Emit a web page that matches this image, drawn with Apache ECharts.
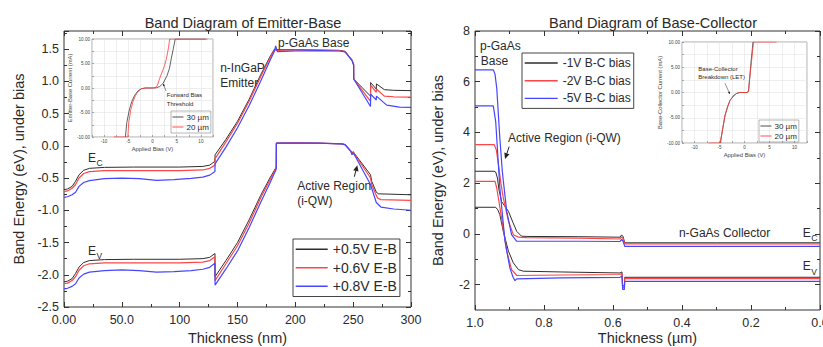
<!DOCTYPE html>
<html><head><meta charset="utf-8">
<script src="https://cdn.jsdelivr.net/npm/echarts@6/dist/echarts.min.js"></script>
<style>html,body{margin:0;padding:0;background:#fff}#c{width:823px;height:347px}</style>
</head><body><div id="c"></div>
<script>
// ---------- Emitter-Base band diagram (thickness nm, energy eV) ----------
const ebNames = ['+0.5V E-B', '+0.6V E-B', '+0.8V E-B'];
const ebEc05 = [[0,-0.68],[3,-0.67],[7,-0.63],[10,-0.55],[13,-0.45],[17,-0.38],[22,-0.35],[35,-0.335],[60,-0.33],[100,-0.33],[120,-0.32],[126,-0.3],[130.5,-0.24],[130.6,-0.14],[140,0.1],[150,0.38],[160,0.72],[170,1.1],[178,1.38],[182,1.5],[184,1.49],[200,1.49],[220,1.485],[238,1.48],[243,1.465],[249,1.33],[250.4,1.26],[250.5,1.035],[265,0.77],[265.1,0.98],[270,0.88],[270.1,0.96],[277,0.87],[285,0.86],[300,0.855]];
const ebEc06 = [[0,-0.71],[3,-0.70],[7,-0.66],[10,-0.6],[13,-0.5],[17,-0.43],[22,-0.40],[35,-0.385],[60,-0.385],[100,-0.385],[120,-0.375],[126,-0.35],[130.5,-0.3],[130.6,-0.2],[140,0.06],[150,0.35],[160,0.69],[170,1.07],[178,1.36],[182,1.49],[184,1.48],[200,1.485],[220,1.48],[238,1.475],[243,1.46],[249,1.33],[250.4,1.26],[250.5,1.035],[265,0.69],[265.1,0.94],[270,0.83],[270.1,0.88],[277,0.77],[285,0.76],[300,0.755]];
const ebEc08 = [[0,-0.80],[3,-0.79],[7,-0.76],[10,-0.72],[13,-0.63],[17,-0.57],[22,-0.54],[35,-0.51],[50,-0.5],[65,-0.51],[80,-0.535],[95,-0.525],[110,-0.505],[120,-0.485],[126,-0.455],[130.5,-0.4],[130.6,-0.28],[140,-0.02],[150,0.28],[160,0.62],[170,1.0],[178,1.32],[182,1.47],[183,1.55],[184.5,1.46],[200,1.47],[220,1.475],[238,1.47],[243,1.455],[249,1.32],[250.4,1.25],[250.5,1.035],[265,0.61],[265.1,0.80],[270,0.71],[270.1,0.77],[279,0.63],[290,0.6],[300,0.595]];
const ebEv05 = [[0,-2.11],[3,-2.10],[7,-2.06],[10,-1.98],[13,-1.88],[17,-1.81],[22,-1.78],[35,-1.765],[60,-1.76],[100,-1.76],[120,-1.75],[126,-1.73],[130.5,-1.67],[130.6,-2.03],[140,-1.78],[150,-1.5],[160,-1.15],[170,-0.77],[178,-0.5],[183.5,-0.33],[183.6,0.04],[200,0.045],[220,0.04],[240,0.03],[243,0.02],[248,-0.08],[249,-0.12],[250,-0.09],[252,-0.14],[265,-0.45],[266,-0.55],[270,-0.72],[272,-0.745],[300,-0.76]];
const ebEv06 = [[0,-2.14],[3,-2.13],[7,-2.09],[10,-2.03],[13,-1.93],[17,-1.86],[22,-1.83],[35,-1.815],[60,-1.815],[100,-1.815],[120,-1.805],[126,-1.78],[130.5,-1.72],[130.6,-2.09],[140,-1.83],[150,-1.55],[160,-1.2],[170,-0.81],[178,-0.53],[183.5,-0.34],[183.6,0.04],[200,0.045],[220,0.04],[240,0.03],[243,0.02],[248,-0.08],[249,-0.13],[250,-0.1],[252,-0.15],[265,-0.5],[266,-0.6],[271,-0.81],[274,-0.835],[300,-0.845]];
const ebEv08 = [[0,-2.22],[3,-2.21],[7,-2.18],[10,-2.14],[13,-2.05],[17,-1.99],[22,-1.96],[35,-1.935],[50,-1.925],[65,-1.935],[80,-1.96],[95,-1.95],[110,-1.935],[120,-1.915],[126,-1.885],[130.5,-1.82],[130.6,-2.16],[140,-1.91],[150,-1.63],[160,-1.27],[170,-0.88],[178,-0.58],[183.5,-0.36],[183.6,0.04],[200,0.04],[220,0.04],[240,0.03],[243,0.015],[248,-0.09],[249,-0.14],[250,-0.11],[252,-0.17],[265,-0.6],[270,-0.88],[274,-0.95],[285,-0.98],[300,-1.0]];
const ebXTicks = [0, 50, 100, 150, 200, 250, 300];
const ebXLabels = ['0.00', '50.0', '100', '150', '200', '250', '300'];
const ebYTicks = [1.5, 1.0, 0.5, 0, -0.5, -1.0, -1.5, -2.0, -2.5];
const ebYLabels = ['1.5', '1.0', '0.5', '0.0', '-0.5', '-1.0', '-1.5', '-2.0', '-2.5'];

// ---------- Base-Collector band diagram (thickness um, energy eV) ----------
const bcNames = ['-1V B-C bias', '-2V B-C bias', '-5V B-C bias'];
const bcEc1 = [[1.0,2.47],[0.945,2.47],[0.94,2.44],[0.935,2.2],[0.93,1.7],[0.923,1.28],[0.913,1.08],[0.903,0.89],[0.89,0.45],[0.879,0.1],[0.865,-0.09],[0.85,-0.1],[0.7,-0.11],[0.58,-0.13],[0.575,-0.04],[0.571,-0.1],[0.566,-0.35],[0.3,-0.35],[0,-0.35]];
const bcEc2 = [[1.0,3.52],[0.944,3.52],[0.938,3.3],[0.932,2.73],[0.925,2.0],[0.918,1.42],[0.903,0.5],[0.889,-0.03],[0.874,-0.13],[0.85,-0.15],[0.7,-0.17],[0.58,-0.2],[0.575,-0.12],[0.571,-0.17],[0.566,-0.39],[0,-0.39]];
const bcEc5 = [[1.0,6.47],[0.947,6.47],[0.942,6.3],[0.937,5.75],[0.928,3.78],[0.921,2.5],[0.918,2.1],[0.916,2.1],[0.913,1.5],[0.908,0.89],[0.894,-0.03],[0.879,-0.29],[0.85,-0.29],[0.7,-0.29],[0.58,-0.3],[0.575,-0.22],[0.571,-0.28],[0.566,-0.49],[0,-0.49]];
const bcEv1 = [[1.0,1.05],[0.94,1.05],[0.934,0.95],[0.928,0.76],[0.918,0.1],[0.903,-0.68],[0.889,-1.14],[0.874,-1.41],[0.86,-1.47],[0.75,-1.5],[0.58,-1.54],[0.574,-1.5],[0.572,-2.05],[0.567,-2.05],[0.566,-1.71],[0,-1.71]];
const bcEv2 = [[1.0,2.07],[0.942,2.07],[0.937,1.81],[0.923,0.63],[0.908,-0.68],[0.894,-1.41],[0.879,-1.64],[0.75,-1.62],[0.58,-1.6],[0.574,-1.56],[0.572,-2.12],[0.567,-2.12],[0.566,-1.76],[0,-1.76]];
const bcEv5 = [[1.0,5.05],[0.947,5.05],[0.94,4.43],[0.928,1.81],[0.913,-0.29],[0.899,-1.34],[0.889,-1.73],[0.884,-1.84],[0.879,-1.77],[0.75,-1.73],[0.58,-1.71],[0.574,-1.67],[0.572,-2.19],[0.567,-2.19],[0.566,-1.87],[0,-1.87]];
const bcXLabels = ['0.0', '0.2', '0.4', '0.6', '0.8', '1.0'];
const bcYMajor = [-2, 0, 2, 4, 6, 8];
const bcYMinor = [-1, 1, 3, 5, 7];

// ---------- Inset I-V curves (applied bias V, current mA) ----------
const ivNames = ['30 µm', '20 µm'];
const ebIV30 = [[-5.6,-10],[-5.3,-7],[-4.8,-4.5],[-4.3,-2.8],[-3.7,-1.5],[-3,-0.6],[-2.3,-0.15],[-1.5,0],[0,0],[0.8,0.05],[1.5,0.3],[2.2,0.96],[3,2.5],[3.5,4],[3.9,6.1],[4.3,8],[4.7,10],[11,10]];
const ebIV20 = [[-8,-10],[-5.1,-10],[-4.9,-7],[-4.5,-4.5],[-4,-2.7],[-3.5,-1.5],[-3,-0.7],[-2.3,-0.15],[-1.5,0],[0,0],[0.5,0.05],[1,0.5],[1.5,2.0],[2,3.3],[2.5,4.6],[2.9,6.1],[3.3,8.2],[3.55,10],[11.4,10]];
const bcIV30 = [[-4.8,-10],[-4.5,-8],[-3.9,-4.6],[-3.4,-2.8],[-2.9,-1.6],[-2.2,-0.6],[-1.6,-0.2],[-1,0],[0.5,0],[0.8,0.2],[1.0,2.5],[1.3,6],[1.7,10]];
const bcIV20 = [[-7.2,-10],[-4.9,-10],[-4.6,-8.5],[-3.9,-4.5],[-2.9,-1.5],[-1.6,-0.2],[-1,0],[0.4,0],[0.8,0.3],[1.1,3.4],[1.5,7],[1.8,10],[6.4,10]];

// ---------- styling ----------
const FONT = 'Liberation Sans, Arial, Helvetica, sans-serif';
const AX = '#333';
const TXT = '#2a2a2a';
const COLORS = ['#2e2e2e', '#ff4646', '#4646ff'];
const IVCOLORS = ['#3a3a3a', '#ff3a3a'];

const chart = echarts.init(document.getElementById('c'), null, {renderer: 'svg'});

function mainAxis(o) {
  return Object.assign({
    type: 'value',
    axisLine: {show: false, onZero: false},
    axisTick: {show: true, inside: true, length: 5, lineStyle: {color: AX, width: 1}},
    minorTick: {show: true, splitNumber: 2, length: 3, lineStyle: {color: AX, width: 1}},
    splitLine: {show: false},
    minorSplitLine: {show: false},
    axisLabel: {show: false},
    nameMoveOverlap: false,
    nameTextStyle: {fontSize: 14.5, color: TXT, fontFamily: FONT}
  }, o);
}
const lab = (o) => Object.assign({show: true, fontSize: 12.5, color: TXT, fontFamily: FONT}, o);
const insLab = (f) => ({fontSize: 4.6, color: '#444', margin: 2, fontFamily: FONT, formatter: f});

function insetAxis(o) {
  return Object.assign({
    type: 'value',
    axisLine: {show: false, onZero: false},
    axisTick: {show: true, inside: true, length: 2, lineStyle: {color: '#777', width: 0.6}},
    splitLine: {show: true, lineStyle: {color: '#e3e3e3', width: 0.6}},
    nameLocation: 'middle',
    nameTextStyle: {fontSize: 5.8, color: '#444', fontFamily: FONT}
  }, o);
}

const xAxis = [
  mainAxis({gridIndex: 0, min: 0, max: 300, interval: 50, position: 'bottom',
    axisLabel: lab({margin: 6, formatter: v => { const i = ebXTicks.indexOf(v); return i >= 0 ? ebXLabels[i] : ''; }}),
    name: 'Thickness (nm)', nameLocation: 'middle', nameGap: 23}),
  mainAxis({gridIndex: 0, min: 0, max: 300, interval: 50, position: 'top'}),
  mainAxis({gridIndex: 1, min: 0, max: 1, interval: 0.2, inverse: true, position: 'bottom',
    axisLabel: lab({margin: 6, formatter: v => bcXLabels[Math.round(v * 5)] || ''}),
    name: 'Thickness (µm)', nameLocation: 'middle', nameGap: 20}),
  mainAxis({gridIndex: 1, min: 0, max: 1, interval: 0.2, inverse: true, position: 'top'}),
  insetAxis({gridIndex: 2, min: -12.5, max: 12.5, interval: 2.5,
    axisLabel: insLab(v => (v % 5 === 0 ? String(v) : '')), name: 'Applied Bias (V)', nameGap: 9}),
  insetAxis({gridIndex: 3, min: -12.5, max: 12.5, interval: 2.5,
    axisLabel: insLab(v => (v % 5 === 0 ? String(v) : '')), name: 'Applied Bias (V)', nameGap: 9})
];

const yAxis = [
  mainAxis({gridIndex: 0, min: -2.5, max: 1.78, interval: 0.5, position: 'left',
    axisLabel: lab({margin: 5, formatter: v => { const i = ebYTicks.findIndex(t => Math.abs(t - v) < 1e-6); return i >= 0 ? ebYLabels[i] : ''; }}),
    name: 'Band Energy (eV), under bias', nameLocation: 'middle', nameGap: 38}),
  mainAxis({gridIndex: 0, min: -2.5, max: 1.78, interval: 0.5, position: 'right'}),
  mainAxis({gridIndex: 1, min: -3, max: 8, position: 'left', minorTick: {show: false},
    axisTick: {show: true, inside: true, length: 5, customValues: bcYMajor, lineStyle: {color: AX}},
    axisLabel: lab({margin: 5, customValues: bcYMajor, formatter: v => String(v)}),
    name: 'Band Energy (eV), under bias', nameLocation: 'middle', nameGap: 30}),
  mainAxis({gridIndex: 1, min: -3, max: 8, position: 'left', minorTick: {show: false},
    axisTick: {show: true, inside: true, length: 3, customValues: bcYMinor, lineStyle: {color: AX}}}),
  mainAxis({gridIndex: 1, min: -3, max: 8, position: 'right', minorTick: {show: false},
    axisTick: {show: true, inside: true, length: 5, customValues: bcYMajor, lineStyle: {color: AX}}}),
  mainAxis({gridIndex: 1, min: -3, max: 8, position: 'right', minorTick: {show: false},
    axisTick: {show: true, inside: true, length: 3, customValues: bcYMinor, lineStyle: {color: AX}}}),
  insetAxis({gridIndex: 2, min: -10, max: 10, interval: 2.5,
    axisLabel: insLab(v => (v % 5 === 0 ? v.toFixed(2) : '')), name: 'Emitter-Base Current (mA)', nameGap: 14}),
  insetAxis({gridIndex: 3, min: -10, max: 10, interval: 2.5,
    axisLabel: insLab(v => (v % 5 === 0 ? v.toFixed(2) : '')), name: 'Base-Collector Current (mA)', nameGap: 14})
];

function ln(name, data, color, xi, yi, w) {
  return {type: 'line', name, data, xAxisIndex: xi, yAxisIndex: yi, symbol: 'none', showSymbol: false,
    lineStyle: {color, width: w}, itemStyle: {color}, animation: false, silent: true};
}
const series = [
  ln(ebNames[0], ebEc05, COLORS[0], 0, 0, 1), ln(ebNames[1], ebEc06, COLORS[1], 0, 0, 1.2), ln(ebNames[2], ebEc08, COLORS[2], 0, 0, 1.2),
  ln(ebNames[0], ebEv05, COLORS[0], 0, 0, 1), ln(ebNames[1], ebEv06, COLORS[1], 0, 0, 1.2), ln(ebNames[2], ebEv08, COLORS[2], 0, 0, 1.2),
  ln(bcNames[0], bcEc1, COLORS[0], 2, 2, 1), ln(bcNames[1], bcEc2, COLORS[1], 2, 2, 1.2), ln(bcNames[2], bcEc5, COLORS[2], 2, 2, 1.2),
  ln(bcNames[0], bcEv1, COLORS[0], 2, 2, 1), ln(bcNames[1], bcEv2, COLORS[1], 2, 2, 1.2), ln(bcNames[2], bcEv5, COLORS[2], 2, 2, 1.2),
  ln(ivNames[0], ebIV30, IVCOLORS[0], 4, 6, 0.8), ln(ivNames[1], ebIV20, IVCOLORS[1], 4, 6, 0.8),
  ln(ivNames[0], bcIV30, IVCOLORS[0], 5, 7, 0.8), ln(ivNames[1], bcIV20, IVCOLORS[1], 5, 7, 0.8)
];

const legBase = {orient: 'vertical', selectedMode: false, borderColor: '#444', borderWidth: 1,
  itemStyle: {opacity: 0}, inactiveColor: '#999'};
const legend = [
  Object.assign({}, legBase, {data: ebNames, left: 293, top: 239, itemWidth: 32, itemHeight: 10, itemGap: 4,
    padding: [3, 3, 3, 2], textStyle: {fontSize: 14, lineHeight: 14.5, color: TXT, fontFamily: FONT}, lineStyle: {width: 1.4}}),
  Object.assign({}, legBase, {data: bcNames, left: 522, top: 53, itemWidth: 33, itemHeight: 10, itemGap: 3.7,
    padding: [3, 3, 3, 2], textStyle: {fontSize: 12, lineHeight: 14, color: TXT, fontFamily: FONT}, lineStyle: {width: 1.4}}),
  Object.assign({}, legBase, {data: ivNames, left: 171, top: 111, itemWidth: 11, itemHeight: 6, itemGap: 1,
    borderColor: '#888', borderWidth: 0.6, padding: [1.5, 2, 1.5, 1],
    textStyle: {fontSize: 8, lineHeight: 9, color: TXT, fontFamily: FONT, padding: [0, 0, 0, -2]}, lineStyle: {width: 0.9}}),
  Object.assign({}, legBase, {data: ivNames, left: 759, top: 120, itemWidth: 11, itemHeight: 6, itemGap: 1,
    borderColor: '#888', borderWidth: 0.6, padding: [1.5, 2, 1.5, 1],
    textStyle: {fontSize: 8, lineHeight: 9, color: TXT, fontFamily: FONT, padding: [0, 0, 0, -2]}, lineStyle: {width: 0.9}})
];

const gridBase = {show: true, outerBoundsMode: 'none', containLabel: false};
const option = {
  backgroundColor: '#fff',
  animation: false,
  textStyle: {fontFamily: FONT},
  title: [
    {text: 'Band Diagram of Emitter-Base', left: 238, top: 10, textAlign: 'center',
      textStyle: {fontSize: 14.5, fontWeight: 'normal', color: TXT, fontFamily: FONT}},
    {text: 'Band Diagram of Base-Collector', left: 648, top: 10, textAlign: 'center',
      textStyle: {fontSize: 14.5, fontWeight: 'normal', color: TXT, fontFamily: FONT}}
  ],
  grid: [
    Object.assign({left: 64, top: 31, width: 347, height: 276, borderColor: AX, borderWidth: 1, backgroundColor: 'transparent'}, gridBase),
    Object.assign({left: 475, top: 31, width: 345, height: 279, borderColor: AX, borderWidth: 1, backgroundColor: 'transparent'}, gridBase),
    Object.assign({left: 92, top: 39, width: 121, height: 98, borderColor: '#888', borderWidth: 0.7, backgroundColor: '#fff'}, gridBase),
    Object.assign({left: 682, top: 42, width: 125, height: 101, borderColor: '#888', borderWidth: 0.7, backgroundColor: '#fff'}, gridBase)
  ],
  legend, xAxis, yAxis, series
};
chart.setOption(option);

// ---------- annotations anchored to data coordinates ----------
const P = (xi, yi, pt) => chart.convertToPixel({xAxisIndex: xi, yAxisIndex: yi}, pt);
const notes = [
  // [xAxis, yAxis, x, y, text, fontSize]
  [0, 0, 185, 1.6, 'p-GaAs Base', 12],
  [0, 0, 135, 1.21, 'n-InGaP', 12],
  [0, 0, 135, 0.98, 'Emitter', 12],
  [0, 0, 20.8, -0.186, 'E', 12],
  [0, 0, 28.2, -0.264, 'C', 8.5],
  [0, 0, 20.8, -1.63, 'E', 12],
  [0, 0, 28.2, -1.71, 'V', 8.5],
  [0, 0, 201.6, -0.62, 'Active Region', 12],
  [0, 0, 201.6, -0.855, '(i-QW)', 12],
  [2, 2, 0.9855, 7.41, 'p-GaAs', 12],
  [2, 2, 0.983, 6.82, 'Base', 12],
  [2, 2, 0.904, 3.79, 'Active Region (i-QW)', 12],
  [2, 2, 0.409, 0.05, 'n-GaAs Collector', 12],
  [2, 2, 0.05, 0.04, 'E', 12],
  [2, 2, 0.0255, -0.157, 'C', 8.5],
  [2, 2, 0.05, -1.28, 'E', 12],
  [2, 2, 0.0255, -1.51, 'V', 8.5],
  [4, 6, 2.95, -1.45, 'Forward Bias', 6],
  [4, 6, 2.95, -3.2, 'Threshold', 6],
  [5, 7, -9.24, 4.59, 'Base-Collector', 6],
  [5, 7, -9.24, 3.05, 'Breakdown (LET)', 6]
];
const arrows = [
  [0, 0, [251, -0.48], [253.6, -0.3], 6],
  [2, 2, [0.901, 3.44], [0.913, 2.95], 6],
  [4, 6, [2.79, -0.6], [2.2, 0.9], 2.5],
  [5, 7, [-3.9, 1.82], [-2.9, -0.36], 2.5]
];
const graphic = [];
notes.forEach(([xi, yi, x, y, text, fs]) => {
  const p = P(xi, yi, [x, y]);
  graphic.push({type: 'text', x: p[0], y: p[1], silent: true,
    style: {text, fontSize: fs, fontFamily: FONT, fill: TXT, align: 'left', verticalAlign: 'middle'}});
});
arrows.forEach(([xi, yi, a, b, s]) => {
  const p1 = P(xi, yi, a), p2 = P(xi, yi, b);
  const dx = p2[0] - p1[0], dy = p2[1] - p1[1], L = Math.hypot(dx, dy);
  const ux = dx / L, uy = dy / L;
  const bx = p2[0] - ux * s, by = p2[1] - uy * s;
  const px = -uy * s * 0.45, py = ux * s * 0.45;
  graphic.push({type: 'line', silent: true, shape: {x1: p1[0], y1: p1[1], x2: bx, y2: by}, style: {stroke: '#222', lineWidth: s > 3 ? 1 : 0.5}});
  graphic.push({type: 'polygon', silent: true, shape: {points: [[p2[0], p2[1]], [bx + px, by + py], [bx - px, by - py]]}, style: {fill: '#222'}});
});
chart.setOption({graphic});
</script></body></html>
